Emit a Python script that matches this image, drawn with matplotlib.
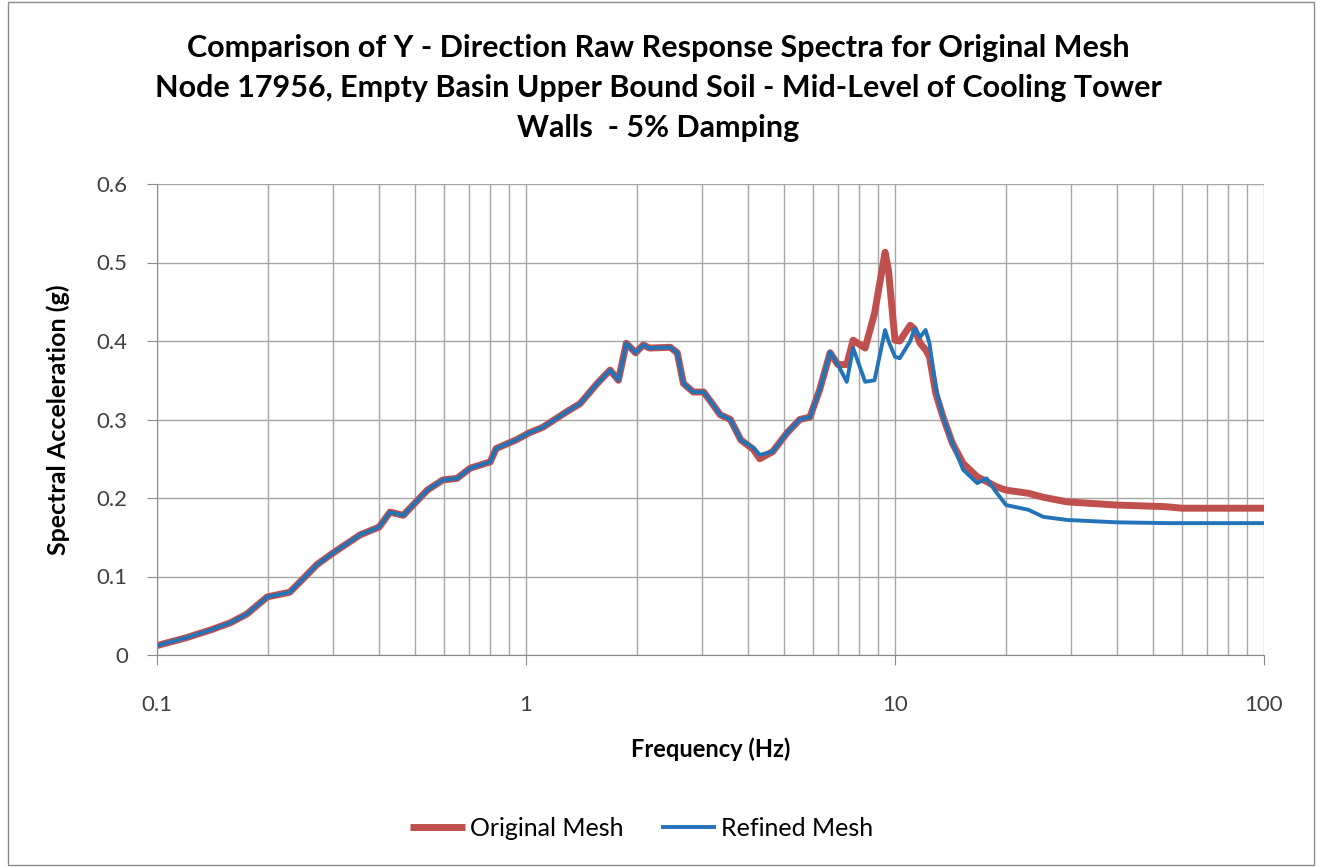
import numpy as np
import matplotlib
matplotlib.use("Agg")
import matplotlib.pyplot as plt
from matplotlib.patches import Rectangle
from matplotlib.ticker import LogLocator, FixedLocator, NullFormatter

plt.rcParams['font.family'] = ['Lato', 'DejaVu Sans']

# frequency points (Hz)
freq = [0.1, 0.12, 0.14, 0.158, 0.175, 0.199, 0.229, 0.25, 0.271, 0.3,
        0.355, 0.40, 0.428, 0.465, 0.54, 0.595, 0.65, 0.706, 0.80, 0.83,
        0.94, 1.02, 1.11, 1.29, 1.40, 1.56, 1.69, 1.78, 1.87, 1.98,
        2.08, 2.16, 2.46, 2.57, 2.67, 2.84, 3.03, 3.2, 3.36, 3.58,
        3.82, 4.13, 4.3, 4.66, 5.1, 5.52, 5.88, 6.25, 6.67, 7.0,
        7.4, 7.7, 8.3, 8.8, 9.4, 9.6, 10.0, 10.3, 11.0, 11.3,
        11.7, 12.1, 12.4, 12.9, 13.5, 14.3, 15.3, 16.7, 17.7, 18.9,
        20, 23, 25.2, 29.3, 40, 54, 60, 100]

original = [0.012, 0.022, 0.032, 0.041, 0.052, 0.074, 0.080, 0.098, 0.115, 0.130,
            0.153, 0.163, 0.182, 0.178, 0.210, 0.223, 0.225, 0.238, 0.246, 0.263,
            0.274, 0.283, 0.290, 0.310, 0.320, 0.346, 0.363, 0.350, 0.397, 0.385,
            0.395, 0.391, 0.392, 0.385, 0.346, 0.335, 0.335, 0.320, 0.306, 0.300,
            0.274, 0.262, 0.250, 0.259, 0.283, 0.300, 0.303, 0.338, 0.385, 0.370,
            0.370, 0.401, 0.391, 0.435, 0.513, 0.490, 0.401, 0.400, 0.420, 0.415,
            0.397, 0.389, 0.380, 0.333, 0.303, 0.270, 0.244, 0.227, 0.221, 0.214,
            0.210, 0.206, 0.201, 0.195, 0.191, 0.189, 0.187, 0.187]

refined = [0.012, 0.022, 0.032, 0.041, 0.052, 0.074, 0.080, 0.098, 0.115, 0.130,
           0.153, 0.163, 0.182, 0.178, 0.210, 0.223, 0.225, 0.238, 0.246, 0.263,
           0.274, 0.283, 0.290, 0.310, 0.320, 0.346, 0.363, 0.350, 0.397, 0.385,
           0.395, 0.391, 0.392, 0.385, 0.346, 0.335, 0.335, 0.320, 0.306, 0.300,
           0.274, 0.264, 0.255, 0.259, 0.283, 0.300, 0.303, 0.338, 0.386, 0.370,
           0.348, 0.391, 0.348, 0.350, 0.414, 0.400, 0.380, 0.378, 0.400, 0.416,
           0.405, 0.414, 0.397, 0.340, 0.303, 0.270, 0.236, 0.219, 0.225, 0.206,
           0.191, 0.185, 0.176, 0.172, 0.169, 0.168, 0.168, 0.168]

title_lines = ["Comparison of Y - Direction Raw Response Spectra for Original Mesh",
               "Node 17956, Empty Basin Upper Bound Soil - Mid-Level of Cooling Tower",
               "Walls  - 5% Damping"]

W, H = 1317, 867
fig = plt.figure(figsize=(W / 100, H / 100), dpi=100)
ax = fig.add_axes([157 / W, 1 - 655 / H, (1264 - 157) / W, (655 - 184) / H])

# outer chart border
fig.patches.append(Rectangle((8 / W, 2 / H), (1314 - 8) / W, (865 - 2) / H,
                             transform=fig.transFigure, fill=False,
                             edgecolor='#8c8c8c', linewidth=1.0))

ax.plot(freq, original, color='#C0504D', linewidth=5.0, label='Original Mesh',
        solid_joinstyle='round', solid_capstyle='butt')
ax.plot(freq, refined, color='#2373B8', linewidth=2.8, label='Refined Mesh',
        solid_joinstyle='round', solid_capstyle='butt')

ax.set_xscale('log')
ax.set_xlim(0.1, 100)
ax.set_ylim(0, 0.6)
ax.xaxis.set_major_locator(FixedLocator([0.1, 1, 10, 100]))
ax.xaxis.set_minor_locator(LogLocator(base=10, subs=np.arange(2, 10)))
ax.xaxis.set_minor_formatter(NullFormatter())
ax.set_xticklabels(['0.1', '1', '10', '100'])
ax.set_yticks(np.arange(0, 0.61, 0.1))
ax.set_yticklabels(['0', '0.1', '0.2', '0.3', '0.4', '0.5', '0.6'])

ax.grid(True, which='major', color='#a6a6a6', linewidth=1.0)
ax.grid(True, which='minor', axis='x', color='#a6a6a6', linewidth=1.0)
ax.set_axisbelow(True)
for s in ['top', 'right']:
    ax.spines[s].set_visible(False)
for s in ['left', 'bottom']:
    ax.spines[s].set_color('#8c8c8c')

ax.tick_params(axis='both', which='major', length=7, color='#8c8c8c',
               labelsize=16, labelcolor='#404040')
ax.tick_params(axis='y', which='major', pad=14)
ax.tick_params(axis='x', which='major', pad=21.5)
ax.tick_params(axis='x', which='minor', length=0)

ax.set_xlabel('Frequency (Hz)', fontsize=17, fontweight='bold', labelpad=16.5)
ax.set_ylabel('Spectral Acceleration (g)', fontsize=18, fontweight='bold', labelpad=19)

for i, line in enumerate(title_lines):
    fig.text(0.5, 1 - (57 + 40 * i) / H, line, ha='center', va='baseline',
             fontsize=22, fontweight='bold')

fig.legend(loc='center', bbox_to_anchor=(0.5 - 17 / W, 1 - 828 / H), ncol=2,
           frameon=False, fontsize=18, handlelength=2.2, handletextpad=0.2,
           columnspacing=1.5)

fig.savefig('out.png', dpi=100)
